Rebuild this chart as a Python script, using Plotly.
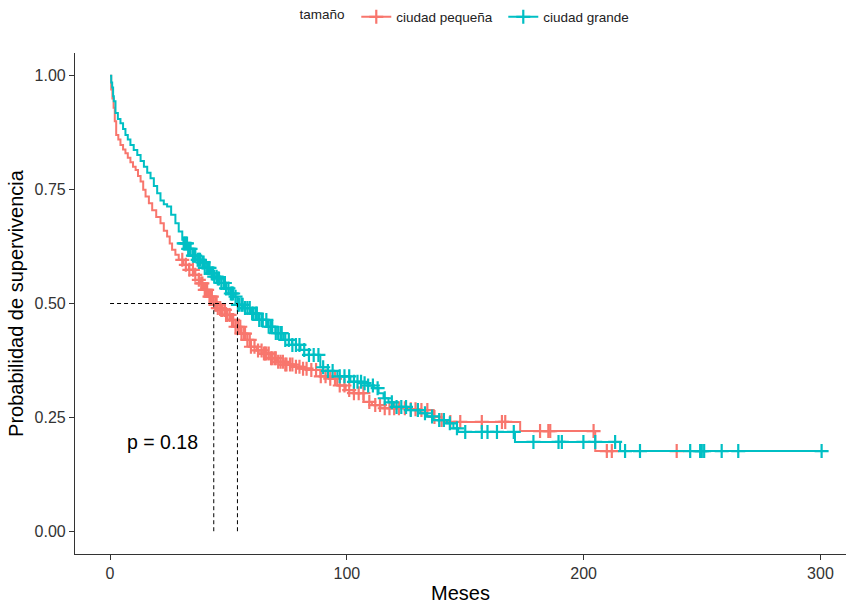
import plotly.graph_objects as go
import numpy as np

# ---- data ----
group_names = ["ciudad pequeña", "ciudad grande"]
colors = ["#F8766D", "#00BFC4"]

red_t = [0, 0.5, 1, 1.5, 2, 2.6, 3.5, 4.4, 5.5, 6.5, 7.5, 8.6, 9.7, 10.8, 11.8, 12.9, 14, 15,
         16.4, 17.8, 19.5, 21.3, 22.7, 24.1, 25.2, 26.2, 27.6, 29, 31, 33.3, 35.5, 37.5, 38.2,
         39.5, 41.7, 43.8, 45.2, 46.6, 48.7, 50.8, 53, 55.1, 57.2, 59.3, 62, 64.9, 67.7, 70.5,
         74, 77.6, 81, 84.6, 88.8, 93, 95.9, 99.5, 102.9, 107.1, 110.6, 114.1, 121.2, 126, 131,
         136.6, 140, 143, 173.2, 204.9]
red_s = [1.0, 0.97, 0.95, 0.93, 0.90, 0.87, 0.86, 0.848, 0.838, 0.83, 0.82, 0.81, 0.80, 0.793,
         0.78, 0.768, 0.75, 0.735, 0.72, 0.705, 0.69, 0.676, 0.66, 0.647, 0.632, 0.618, 0.607,
         0.596, 0.585, 0.574, 0.563, 0.552, 0.544, 0.53, 0.515, 0.497, 0.49, 0.486, 0.475, 0.464,
         0.449, 0.434, 0.42, 0.405, 0.397, 0.39, 0.38, 0.372, 0.366, 0.361, 0.357, 0.354, 0.34,
         0.335, 0.32, 0.31, 0.303, 0.284, 0.277, 0.27, 0.27, 0.268, 0.266, 0.251, 0.244, 0.24,
         0.22, 0.176]
red_end = 239.3
red_cens = [30.5, 32, 33.5, 35, 36, 37.5, 38.5, 39, 40, 40.5, 41, 42, 42.5, 43, 44.5, 45, 45.5,
            46.5, 47, 47.5, 48.5, 49, 49.5, 50.5, 51.5, 52, 53, 54, 55, 55.5, 56.5, 57, 58, 59,
            59.5, 61, 62.5, 64, 65, 65.5, 66, 67, 68, 68.5, 69.5, 70, 71, 72, 73, 74, 74.5, 76,
            77, 78.5, 80, 81.5, 83, 85, 87, 89, 91, 93, 95, 97, 99, 101, 103, 105, 107, 109.5,
            112, 114, 116, 118, 120, 122, 124.5, 127, 129, 131.5, 134, 137, 140, 143.7, 147.9,
            157, 165.5, 166.9, 181.6, 185.1, 185.9, 204.2, 209.8, 211.9, 239.3]

teal_t = [0, 0.5, 0.9, 1.3, 1.6, 2.3, 3.3, 4.4, 5.5, 6.5, 7.5, 8.6, 10, 11.5, 12.9, 14.3, 15.7,
          17.1, 18.5, 19.9, 21.3, 22.7, 24.1, 25.8, 27.6, 29, 30.5, 31.1, 33, 35, 36.8, 38.2, 40,
          42.4, 43.8, 45.2, 47, 49, 50.8, 52.2, 53.8, 56.5, 59.3, 62.8, 66.3, 69.8, 73.3, 76.8,
          80.4, 84, 88.8, 92, 96, 101.5, 107.1, 109, 111.3, 113.4, 115.5, 117.6, 119.7, 125.4,
          131, 133.8, 136.6, 142.3, 145, 147, 171, 215.4]
teal_s = [1.0, 0.985, 0.974, 0.955, 0.944, 0.918, 0.905, 0.896, 0.883, 0.87, 0.86, 0.848, 0.837,
          0.826, 0.813, 0.80, 0.787, 0.775, 0.758, 0.742, 0.726, 0.718, 0.713, 0.695, 0.676, 0.658,
          0.64, 0.632, 0.62, 0.605, 0.596, 0.59, 0.578, 0.566, 0.559, 0.555, 0.545, 0.533, 0.522,
          0.515, 0.497, 0.49, 0.478, 0.464, 0.449, 0.435, 0.42, 0.409, 0.398, 0.387, 0.36, 0.352,
          0.34, 0.328, 0.325, 0.32, 0.314, 0.303, 0.292, 0.283, 0.273, 0.266, 0.259, 0.252, 0.244,
          0.237, 0.226, 0.218, 0.196, 0.176]
teal_end = 300.5
teal_cens = [31.1, 31.5, 32, 32.5, 33, 33.5, 34, 35, 35.5, 36, 37, 37.5, 38, 39, 39.5, 40, 41,
             41.5, 42, 43, 43.5, 44, 45, 45.5, 46, 47, 48, 48.5, 49, 50, 51, 51.5, 52, 53, 54,
             54.5, 55.5, 56, 57, 58, 59, 60, 60.5, 61.5, 62, 63, 64, 64.5, 66, 67, 68, 68.5, 70,
             71, 72, 72.5, 74, 75.5, 77, 78.5, 80, 82, 84, 86, 88, 90, 92, 94, 97, 99, 101, 103,
             104.5, 106, 107.5, 109, 111, 113, 116, 119, 121, 123, 125, 127, 130, 133, 136, 139,
             141, 143.5, 146.5, 150, 157, 159.4, 163.4, 170.5, 178.8, 189.4, 190.8, 199.9, 204.9,
             213.3, 217.5, 223.8, 245, 249.2, 249.9, 250.9, 258.3, 265.3, 300.5]

medians = [43.8, 53.8]
p_text = "p = 0.18"
x_ticks = [0, 100, 200, 300]
y_ticks = [0.0, 0.25, 0.50, 0.75, 1.00]
y_ticklabels = ["0.00", "0.25", "0.50", "0.75", "1.00"]


def step_at(times, surv, t):
    idx = np.searchsorted(np.array(times), t, side="right") - 1
    return surv[max(idx, 0)]


fig = go.Figure()
curves = [(red_t, red_s, red_end, red_cens), (teal_t, teal_s, teal_end, teal_cens)]
for (tt, ss, tend, cens), name, col in zip(curves, group_names, colors):
    fig.add_trace(go.Scatter(x=tt + [tend], y=ss + [ss[-1]], mode="lines",
                             line=dict(color=col, width=2, shape="hv"),
                             showlegend=False, hoverinfo="skip"))
    fig.add_trace(go.Scatter(x=cens, y=[step_at(tt, ss, c) for c in cens], mode="markers",
                             marker=dict(symbol="cross-thin", size=10,
                                         line=dict(color=col, width=2.2)),
                             showlegend=False, hoverinfo="skip"))
    fig.add_trace(go.Scatter(x=[None], y=[None], mode="lines+markers", name=name,
                             line=dict(color=col, width=2),
                             marker=dict(symbol="cross-thin", size=10,
                                         line=dict(color=col, width=2.2))))

# median lines
fig.add_trace(go.Scatter(x=[0, max(medians)], y=[0.5, 0.5], mode="lines",
                         line=dict(color="black", width=1, dash="4px,3px"),
                         showlegend=False, hoverinfo="skip"))
for m in medians:
    fig.add_trace(go.Scatter(x=[m, m], y=[0, 0.5], mode="lines",
                             line=dict(color="black", width=1, dash="4px,3px"),
                             showlegend=False, hoverinfo="skip"))

fig.add_annotation(x=6.5, y=0.196, text=p_text, showarrow=False, xanchor="left",
                   yanchor="middle", font=dict(size=19.5, color="black"))

fig.update_layout(
    width=846, height=604,
    margin=dict(l=74.5, r=0, t=53, b=50, autoexpand=False),
    paper_bgcolor="white", plot_bgcolor="white",
    font=dict(family="Liberation Sans, Arial, sans-serif", color="#222222"),
    legend=dict(orientation="h", x=297.5 / 846, xref="container", xanchor="left",
                y=1 - 17 / 604, yref="container", yanchor="middle",
                title=dict(text="tamaño\u00a0", font=dict(size=13.5, color="#222222")),
                font=dict(size=13.5, color="#222222"), itemwidth=30, entrywidth=102),
    xaxis=dict(range=[-14.8, 310.8], tickvals=x_ticks, showgrid=False, zeroline=False,
               showline=True, linecolor="#333333", linewidth=1.2, ticks="outside", ticklen=5,
               tickcolor="#333333", tickfont=dict(size=16, color="#333333"),
               title=dict(text="Meses", font=dict(size=20, color="black"), standoff=5)),
    yaxis=dict(range=[-0.05, 1.05], tickvals=y_ticks, ticktext=y_ticklabels, showgrid=False,
               zeroline=False, showline=True, linecolor="#333333", linewidth=1.2,
               ticks="outside", ticklen=5, tickcolor="#333333",
               tickfont=dict(size=16, color="#333333"),
               title=dict(text="Probabilidad de supervivencia", font=dict(size=20, color="black"),
                          standoff=5)),
)

fig.write_html("out.html")
